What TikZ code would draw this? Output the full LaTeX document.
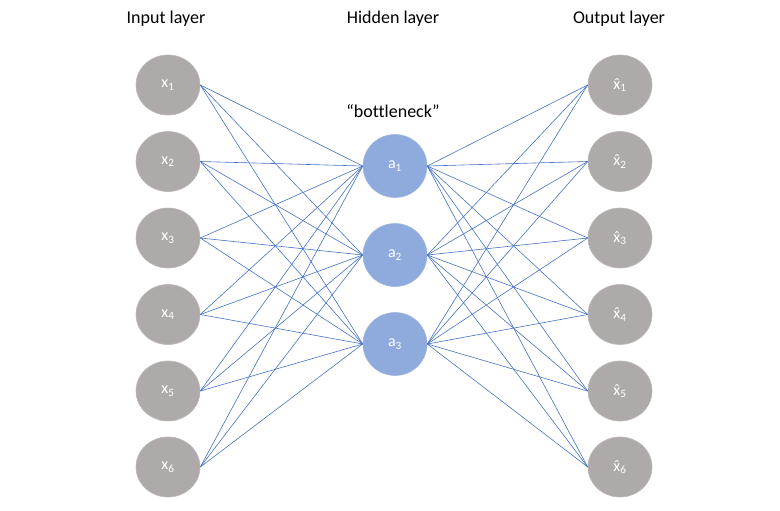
\documentclass[tikz,border=0pt]{standalone}
\usepackage{fontspec}
\setmainfont{Carlito}[Ligatures=NoCommon]
\usetikzlibrary{shapes.geometric}
\definecolor{ngray}{HTML}{AEAAAA}
\definecolor{nblue}{HTML}{8FAADC}
\definecolor{lblue}{HTML}{4472C4}
\tikzset{
  inode/.style={ellipse, fill=ngray, draw=ngray!85!white, line width=0.6pt, minimum width=64pt, minimum height=60pt, inner sep=0pt, text=white, font=\fontsize{16}{19}\selectfont},
  hnode/.style={ellipse, fill=nblue, draw=nblue!85!white, line width=0.6pt, minimum width=64pt, minimum height=63pt, inner sep=0pt, text=white, font=\fontsize{16}{19}\selectfont},
  title/.style={font=\fontsize{18}{21}\selectfont, text=black},
  conn/.style={draw=lblue, line width=0.6pt}
}
\newcommand{\xh}{\accent"02C6 x}
\begin{document}
\begin{tikzpicture}[x=1pt,y=-1pt]
\useasboundingbox (0,0) rectangle (780,511);
\node[title] (tin) at (166,19) {Input layer};
\node[title] (thid) at (393,19) {Hidden layer};
\node[title] (tout) at (619,19) {Output layer};
\node[title] (tbot) at (393,111) {“bottleneck”};
\foreach \i/\y in {1/85,2/161.5,3/238,4/314.5,5/391,6/467} {
  \node[inode] (x\i) at (168,\y) {x\textsubscript{\i}};
  \node[inode] (o\i) at (620,\y) {\xh\textsubscript{\i}};
}
\foreach \i/\y in {1/166,2/255,3/344} {
  \node[hnode] (a\i) at (395,\y) {a\textsubscript{\i}};
}
\foreach \i in {1,...,6} {
  \foreach \j in {1,2,3} {
    \draw[conn] (x\i.east) -- (a\j.west);
    \draw[conn] (a\j.east) -- (o\i.west);
  }
}
\end{tikzpicture}
\end{document}
